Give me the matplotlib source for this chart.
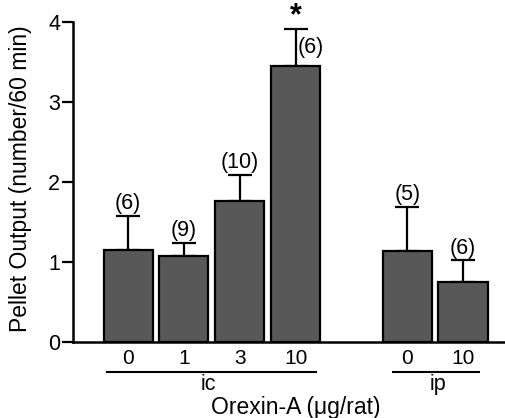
import numpy as np
import matplotlib
matplotlib.use('Agg')
import matplotlib.pyplot as plt
import matplotlib.transforms as mtransforms

plt.rcParams['font.family'] = ['Liberation Sans', 'DejaVu Sans']

# data
doses = ['0', '1', '3', '10', '0', '10']
means = [1.15, 1.07, 1.76, 3.45, 1.14, 0.75]
sems = [0.43, 0.17, 0.33, 0.47, 0.55, 0.27]
n_labels = ['(6)', '(9)', '(10)', '(6)', '(5)', '(6)']
groups = ['ic', 'ip']

pos = np.array([0, 1, 2, 3, 5, 6])

fig = plt.figure(figsize=(5.06, 4.18), dpi=100)
ax = fig.add_axes([0.144, 0.182, 0.856, 0.765])

ax.bar(pos, means, width=0.88, color='#585858', edgecolor='black', linewidth=1.6, zorder=2)
ax.errorbar(pos, means, yerr=[np.zeros(len(sems)), sems], fmt='none', ecolor='black',
            elinewidth=1.6, capsize=8.5, capthick=1.6, zorder=1)

# n labels
for i in range(len(pos)):
    top = means[i] + sems[i]
    if i == 3:
        ax.text(pos[i] + 0.04, top - 0.1, n_labels[i], ha='left', va='top', fontsize=15.5)
        ax.text(pos[i], top - 0.04, '*', ha='center', va='bottom', fontsize=22, fontweight='bold')
    else:
        ax.text(pos[i], top + 0.02, n_labels[i], ha='center', va='bottom', fontsize=15.5)

ax.set_xlim(-0.99, 6.77)
ax.set_ylim(0, 4)
ax.set_yticks([0, 1, 2, 3, 4])
ax.set_xticks(pos)
ax.set_xticklabels(doses, fontsize=15)
ax.tick_params(axis='x', length=0, pad=5)
ax.tick_params(axis='y', length=8, width=1.6, labelsize=15.5, pad=1)
ax.spines['top'].set_visible(False)
ax.spines['right'].set_visible(False)
ax.spines['left'].set_linewidth(1.8)
ax.spines['bottom'].set_linewidth(1.8)

# group lines
trans = mtransforms.blended_transform_factory(ax.transData, ax.transAxes)
ax.plot([-0.38, 3.36], [-0.093, -0.093], color='black', lw=1.5, transform=trans, clip_on=False)
ax.plot([4.74, 6.29], [-0.093, -0.093], color='black', lw=1.5, transform=trans, clip_on=False)
ax.text(1.43, -0.133, groups[0], transform=trans, ha='center', va='center', fontsize=15.5)
ax.text(5.56, -0.133, groups[1], transform=trans, ha='center', va='center', fontsize=15.5)

fig.text(0.585, 0.026, 'Orexin-A (\u03bcg/rat)', ha='center', va='center', fontsize=16.5)
fig.text(0.04, 0.572, 'Pellet Output (number/60 min)', ha='center', va='center',
         rotation=90, fontsize=16.5)

fig.savefig('out.png', dpi=100)
